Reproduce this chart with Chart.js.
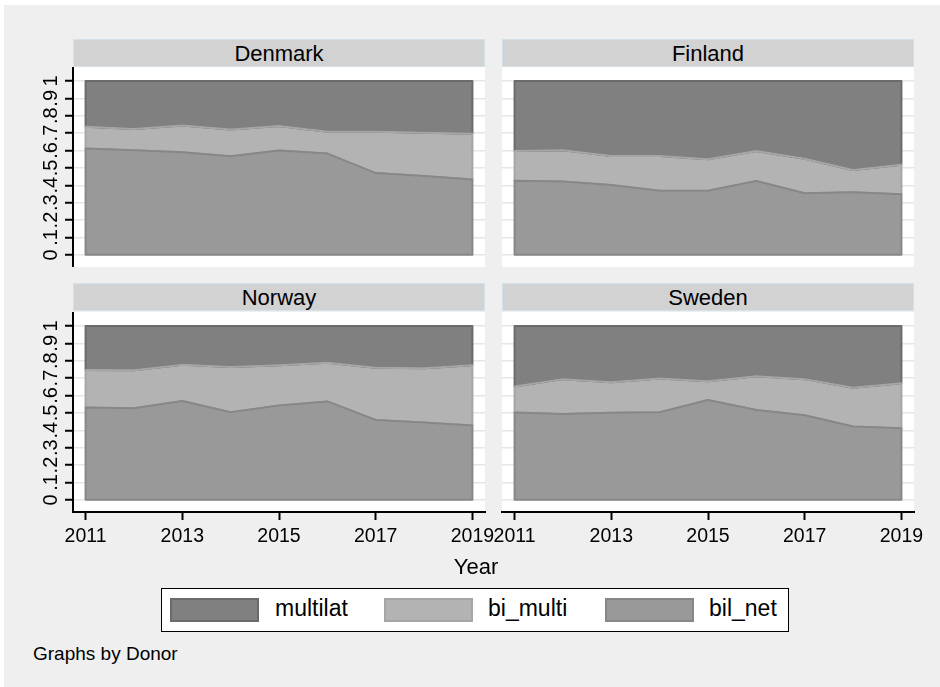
<!DOCTYPE html>
<html>
<head>
<meta charset="utf-8">
<title>Aid shares by donor</title>
<script src="https://cdn.jsdelivr.net/npm/chart.js@4.4.1/dist/chart.umd.min.js"></script>
<style>
  body { margin: 0; background: #fff; width: 940px; height: 687px; overflow: hidden; font-family: "Liberation Sans", Arial, sans-serif; color: #000; }
  #frame { position: absolute; left: 4px; top: 5px; width: 936px; height: 682px; background: #efefef; }
  .strip { position: absolute; width: 410px; height: 26px; background: #d2d2d2; border: 1px solid #d3e2e8; text-align: center; font-size: 22px; line-height: 27px; }
  canvas { position: absolute; }
  #year { position: absolute; left: 440px; top: 556px; width: 72px; text-align: center; font-size: 22px; line-height: 22px; }
  #legend { position: absolute; left: 161px; top: 588px; width: 626px; height: 42px; background: #fff; border: 1px solid #000; }
  .swatch { position: absolute; top: 9px; width: 85px; height: 20px; border: 2px solid; }
  .key { position: absolute; top: 8px; font-size: 23px; line-height: 23px; }
  #note { position: absolute; left: 33px; top: 644px; font-size: 19px; line-height: 19px; }
</style>
</head>
<body>
<div id="frame"></div>

<div class="strip" style="left:73px;top:39px;">Denmark</div>
<div class="strip" style="left:502px;top:39px;">Finland</div>
<div class="strip" style="left:73px;top:283px;">Norway</div>
<div class="strip" style="left:502px;top:283px;">Sweden</div>

<canvas id="denmark" width="490" height="200" style="left:20px;top:67px;"></canvas>
<canvas id="finland" width="462" height="200" style="left:477px;top:67px;"></canvas>
<canvas id="norway" width="490" height="243" style="left:20px;top:312px;"></canvas>
<canvas id="sweden" width="462" height="243" style="left:477px;top:312px;"></canvas>

<div id="year">Year</div>

<div id="legend">
  <div class="swatch" style="left:8px;background:#808080;border-color:#6b6b6b;"></div>
  <span class="key" style="left:113px;">multilat</span>
  <div class="swatch" style="left:222px;background:#b3b3b3;border-color:#a6a6a6;"></div>
  <span class="key" style="left:326px;">bi_multi</span>
  <div class="swatch" style="left:443px;background:#999999;border-color:#878787;"></div>
  <span class="key" style="left:547px;">bil_net</span>
</div>

<div id="note">Graphs by Donor</div>

<script>
const years = [2011, 2012, 2013, 2014, 2015, 2016, 2017, 2018, 2019];
const xTicks = [2011, 2013, 2015, 2017, 2019];
const yTicks = [0, 0.1, 0.2, 0.3, 0.4, 0.5, 0.6, 0.7, 0.8, 0.9, 1];
const yTickLabels = ['0', '.1', '.2', '.3', '.4', '.5', '.6', '.7', '.8', '.9', '1'];

// shares of each donor's total, stacked from the bottom: bil_net, bi_multi, multilat
const denmarkBilNet   = [0.611, 0.602, 0.590, 0.567, 0.600, 0.582, 0.470, 0.453, 0.433];
const denmarkBiMulti  = [0.126, 0.121, 0.153, 0.154, 0.141, 0.126, 0.238, 0.249, 0.263];
const denmarkMultilat = [0.263, 0.277, 0.257, 0.279, 0.259, 0.292, 0.292, 0.298, 0.304];

const finlandBilNet   = [0.426, 0.422, 0.401, 0.368, 0.368, 0.424, 0.354, 0.360, 0.348];
const finlandBiMulti  = [0.171, 0.179, 0.167, 0.200, 0.181, 0.173, 0.199, 0.128, 0.170];
const finlandMultilat = [0.403, 0.399, 0.432, 0.432, 0.451, 0.403, 0.447, 0.512, 0.482];

const norwayBilNet    = [0.531, 0.527, 0.568, 0.504, 0.542, 0.566, 0.459, 0.444, 0.427];
const norwayBiMulti   = [0.216, 0.218, 0.208, 0.260, 0.232, 0.222, 0.300, 0.313, 0.347];
const norwayMultilat  = [0.253, 0.255, 0.224, 0.236, 0.226, 0.212, 0.241, 0.243, 0.226];

const swedenBilNet    = [0.502, 0.494, 0.500, 0.504, 0.574, 0.516, 0.486, 0.422, 0.411];
const swedenBiMulti   = [0.149, 0.200, 0.176, 0.194, 0.108, 0.195, 0.208, 0.223, 0.260];
const swedenMultilat  = [0.349, 0.306, 0.324, 0.302, 0.318, 0.289, 0.306, 0.355, 0.329];

const panels = [
    { id: 'denmark', bilNet: denmarkBilNet, biMulti: denmarkBiMulti, multilat: denmarkMultilat, yAxis: true,  xAxis: false },
    { id: 'finland', bilNet: finlandBilNet, biMulti: finlandBiMulti, multilat: finlandMultilat, yAxis: false, xAxis: false },
    { id: 'norway',  bilNet: norwayBilNet,  biMulti: norwayBiMulti,  multilat: norwayMultilat,  yAxis: true,  xAxis: true },
    { id: 'sweden',  bilNet: swedenBilNet,  biMulti: swedenBiMulti,  multilat: swedenMultilat,  yAxis: false, xAxis: true }
];

const FONT = '"Liberation Sans", Arial, sans-serif';

// white plot region behind grid and areas
const plotBackground = {
    id: 'plotBackground',
    beforeDraw(chart) {
        const a = chart.chartArea;
        chart.ctx.save();
        chart.ctx.fillStyle = '#fff';
        chart.ctx.fillRect(a.left, a.top, a.right - a.left, a.bottom - a.top);
        chart.ctx.restore();
    }
};

// outline each stacked band like Stata does (sides and baseline too)
const areaOutline = {
    id: 'areaOutline',
    afterDatasetsDraw(chart) {
        const ctx = chart.ctx;
        const base = chart.scales.y.getPixelForValue(0);
        for (let i = chart.data.datasets.length - 1; i >= 0; i--) {
            const top = chart.getDatasetMeta(i).data;
            const below = i > 0 ? chart.getDatasetMeta(i - 1).data : null;
            ctx.save();
            ctx.beginPath();
            top.forEach((pt, k) => k ? ctx.lineTo(pt.x, pt.y) : ctx.moveTo(pt.x, pt.y));
            if (below) {
                for (let k = below.length - 1; k >= 0; k--) ctx.lineTo(below[k].x, below[k].y);
            } else {
                ctx.lineTo(top[top.length - 1].x, base);
                ctx.lineTo(top[0].x, base);
            }
            ctx.closePath();
            ctx.strokeStyle = chart.data.datasets[i].borderColor;
            ctx.lineWidth = 2;
            ctx.lineJoin = 'round';
            ctx.stroke();
            ctx.restore();
        }
    }
};

// vertical (rotated) y tick labels
const rotatedYLabels = {
    id: 'rotatedYLabels',
    afterDraw(chart) {
        const scale = chart.scales.y;
        const ctx = chart.ctx;
        const x = chart.chartArea.left - 23;
        ctx.save();
        ctx.font = '20px ' + FONT;
        ctx.fillStyle = '#000';
        ctx.textAlign = 'center';
        ctx.textBaseline = 'middle';
        yTicks.forEach((v, i) => {
            ctx.save();
            ctx.translate(x, scale.getPixelForValue(v));
            ctx.rotate(-Math.PI / 2);
            ctx.fillText(yTickLabels[i], 0, 1);
            ctx.restore();
        });
        ctx.restore();
    }
};

function makeChart(p) {
    const toPoints = vals => years.map((yr, i) => ({ x: yr, y: vals[i] }));
    const band = (label, vals, fill, border, fillTo) => ({
        label: label,
        data: toPoints(vals),
        backgroundColor: fill,
        borderColor: border,
        borderWidth: 1.5,
        fill: fillTo,
        pointRadius: 0,
        tension: 0
    });

    const plugins = [plotBackground, areaOutline];
    if (p.yAxis) plugins.push(rotatedYLabels);

    new Chart(document.getElementById(p.id), {
        type: 'line',
        data: {
            datasets: [
                band('bil_net', p.bilNet, '#999999', '#878787', 'origin'),
                band('bi_multi', p.biMulti, '#b3b3b3', '#a6a6a6', '-1'),
                band('multilat', p.multilat, '#808080', '#6b6b6b', '-1')
            ]
        },
        options: {
            responsive: false,
            animation: false,
            events: [],
            layout: { padding: { left: p.yAxis ? 0 : 25, right: 25, top: 0, bottom: 0 } },
            plugins: { legend: { display: false }, tooltip: { enabled: false } },
            scales: {
                x: {
                    type: 'linear',
                    display: p.xAxis,
                    min: 2010.74,
                    max: 2019.26,
                    afterBuildTicks: s => { s.ticks = xTicks.map(v => ({ value: v })); },
                    afterFit: s => {
                        s.height = p.xAxis ? 43 : 0;
                        s.paddingLeft = 0;
                        s.paddingRight = 0;
                    },
                    grid: { drawOnChartArea: false, tickColor: '#000', tickLength: 8, tickWidth: 2 },
                    border: { color: '#000', width: 2 },
                    ticks: {
                        color: '#000',
                        padding: 5,
                        maxRotation: 0,
                        autoSkip: false,
                        font: { family: FONT, size: 19.5 },
                        callback: v => String(v)
                    }
                },
                y: {
                    stacked: true,
                    min: -0.07,
                    max: 1.08,
                    afterBuildTicks: s => { s.ticks = yTicks.map(v => ({ value: v })); },
                    afterFit: s => {
                        s.width = p.yAxis ? 53 : 0;
                        s.paddingTop = 0;
                        s.paddingBottom = 0;
                    },
                    grid: {
                        color: '#e6e6e6',
                        lineWidth: 1.5,
                        drawTicks: p.yAxis,
                        tickColor: '#000',
                        tickLength: 8,
                        tickWidth: 2
                    },
                    border: { display: p.yAxis, color: '#000', width: 2 },
                    ticks: { display: false }
                }
            }
        },
        plugins: plugins
    });
}

document.addEventListener('DOMContentLoaded', () => {
    panels.forEach(makeChart);
});
</script>
</body>
</html>
